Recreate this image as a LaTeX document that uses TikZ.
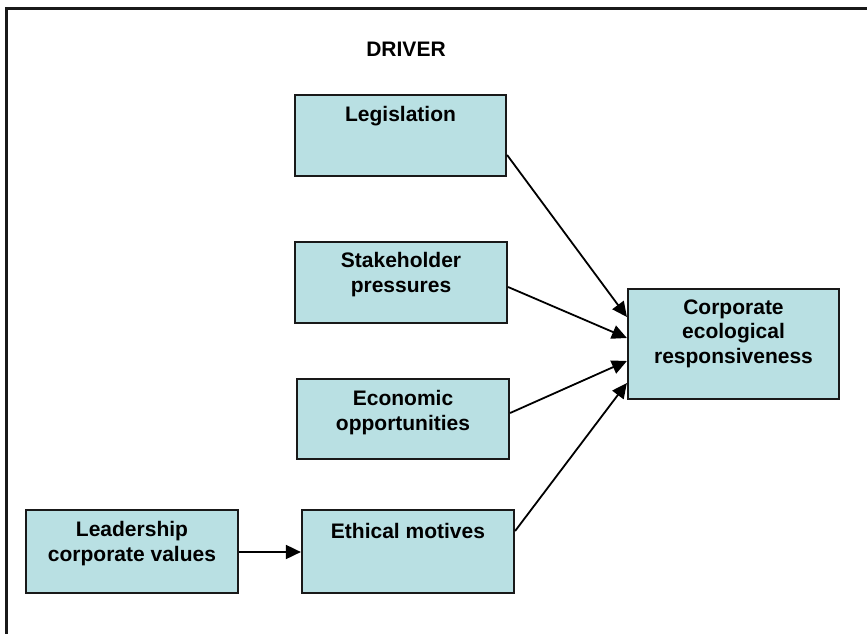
\documentclass[tikz,border=0pt]{standalone}
\usepackage{fontspec}
\setmainfont{Liberation Sans}
\usetikzlibrary{arrows.meta}
\definecolor{boxfill}{RGB}{185,224,227}
\begin{document}
\begin{tikzpicture}[x=1pt,y=-1pt,
  boxshape/.style={draw=black!90,line width=2.2pt,fill=boxfill,inner sep=0pt},
  boxtext/.style={anchor=center,align=center,font=\bfseries\fontsize{21}{24.5}\selectfont,inner sep=0pt},
  link/.style={line width=1.8pt,-{Triangle[length=15pt,width=14pt]}}]
\useasboundingbox (0,0) rectangle (867,634);
% outer frame (left and top edges)
\draw[line width=2.4pt,black!90] (6.5,634) -- (6.5,8.5) -- (867,8.5);
\node[boxtext] (title) at (406,49) {DRIVER};
% boxes
\node[boxshape,minimum width=211pt,minimum height=81pt] (leg) at (400.5,135.5) {};
\node[boxshape,minimum width=212pt,minimum height=81pt] (stk) at (401,282.5) {};
\node[boxshape,minimum width=212pt,minimum height=80pt] (eco) at (403,419) {};
\node[boxshape,minimum width=211pt,minimum height=110pt] (cer) at (733.5,344) {};
\node[boxshape,minimum width=212pt,minimum height=83pt] (lea) at (132,551.5) {};
\node[boxshape,minimum width=212pt,minimum height=83pt] (eth) at (408,551.5) {};
% box texts
\node[boxtext] (legt) at (400.5,116) {Legislation};
\node[boxtext] (stkt) at (401,274.5) {Stakeholder\\pressures};
\node[boxtext] (ecot) at (403,412.5) {Economic\\opportunities};
\node[boxtext] (cert) at (733.5,333.5) {Corporate\\ecological\\responsiveness};
\node[boxtext] (leat) at (132,543.5) {Leadership\\corporate values};
\node[boxtext] (etht) at (408,531) {Ethical motives};
% connectors
\draw[link] (leg.east |- 0,155) -- (cer.west |- 0,317);
\draw[link] (stk.east |- 0,287) -- (cer.west |- 0,338);
\draw[link] (eco.east |- 0,413) -- (cer.west |- 0,361);
\draw[link] (eth.east |- 0,531) -- (cer.west |- 0,383);
\draw[link] (lea.east |- 0,552) -- (eth.west |- 0,552);
\end{tikzpicture}
\end{document}
